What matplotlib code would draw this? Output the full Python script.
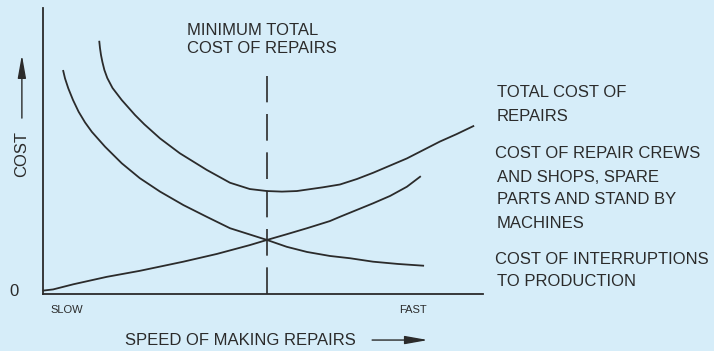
import matplotlib.pyplot as plt

plt.rcParams['font.family'] = ['Liberation Sans', 'DejaVu Sans']

# кривые затрат (скорость ремонта -> стоимость)
x_total = [1.280, 1.295, 1.318, 1.350, 1.395, 1.461, 1.580, 1.789, 2.091, 2.302, 2.66, 3.11, 3.72, 4.25, 4.70,
           5.09, 5.43, 5.77, 6.36, 6.75, 7.136, 7.507, 8.27, 9.02, 9.40, 9.78]
y_total = [8.822, 8.601, 8.357, 8.112, 7.832, 7.552, 7.203, 6.783, 6.259, 5.934, 5.44, 4.92, 4.34, 3.89, 3.67,
           3.60, 3.58, 3.60, 3.73, 3.829, 4.021, 4.241, 4.74, 5.33, 5.59, 5.87]

x_interr = [0.46, 0.50, 0.575, 0.682, 0.809, 0.955, 1.11, 1.26, 1.41, 1.60, 1.79, 2.20, 2.66, 3.19, 3.72,
            4.25, 5.09, 5.54, 6.00, 6.52, 6.98, 7.50, 8.07, 8.64]
y_interr = [7.80, 7.54, 7.19, 6.783, 6.374, 6.00, 5.67, 5.41, 5.15, 4.86, 4.57, 4.05, 3.58, 3.11, 2.70,
            2.30, 1.89, 1.65, 1.47, 1.33, 1.25, 1.13, 1.05, 0.99]

x_crews = [0.01, 0.23, 0.69, 1.45, 2.20, 3.19, 3.95, 4.70, 5.09, 5.54, 6.00, 6.52, 6.75, 7.50, 7.89, 8.27, 8.57]
y_crews = [0.12, 0.16, 0.34, 0.60, 0.81, 1.13, 1.40, 1.71, 1.89, 2.09, 2.30, 2.55, 2.70, 3.17, 3.43, 3.75, 4.10]

x_min = 5.09
y_min_top = 7.62

min_label = ['MINIMUM TOTAL', 'COST OF REPAIRS']
min_label_y = [9.23, 8.57]

right_labels = ['TOTAL COST OF', 'REPAIRS',
                'COST OF REPAIR CREWS', 'AND SHOPS, SPARE', 'PARTS AND STAND BY', 'MACHINES',
                'COST OF INTERRUPTIONS', 'TO PRODUCTION']
right_x = [10.32, 10.32, 10.27, 10.32, 10.32, 10.32, 10.27, 10.32]
right_y = [7.06, 6.19, 4.90, 4.06, 3.29, 2.48, 1.22, 0.42]

bg = '#d6edf9'
ink = '#2b2b2b'

fig = plt.figure(figsize=(7.14, 3.51), dpi=100, facecolor=bg)
ax = fig.add_axes([43/714, 57/351, 440/714, 286/351])
ax.set_facecolor(bg)
ax.set_xlim(0, 10)
ax.set_ylim(0, 10)

for xs, ys in [(x_total, y_total), (x_interr, y_interr), (x_crews, y_crews)]:
    ax.plot(xs, ys, color=ink, lw=1.3, solid_joinstyle='round', clip_on=False)
ax.plot([x_min, x_min], [0, y_min_top], color=ink, lw=1.2, dashes=(16, 7))

for s in ['top', 'right']:
    ax.spines[s].set_visible(False)
for s in ['left', 'bottom']:
    ax.spines[s].set_color(ink)
    ax.spines[s].set_linewidth(1.3)
ax.set_xticks([])
ax.set_yticks([])

for t, yy in zip(min_label, min_label_y):
    ax.text(3.27, yy, t, fontsize=12, color=ink, va='center', ha='left')
for t, xx, yy in zip(right_labels, right_x, right_y):
    ax.text(xx, yy, t, fontsize=12, color=ink, va='center', ha='left', clip_on=False)

ax.text(-0.66, 0.07, '0', fontsize=12, color=ink, ha='center', va='center')
ax.text(0.53, -0.56, 'SLOW', fontsize=8, color=ink, ha='center', va='center')
ax.text(8.40, -0.56, 'FAST', fontsize=8, color=ink, ha='center', va='center')
ax.text(1.86, -1.61, 'SPEED OF MAKING REPAIRS', fontsize=12, color=ink, ha='left', va='center')
ax.text(-0.48, 4.90, 'COST', fontsize=12, color=ink, ha='center', va='center', rotation=90)

arr = dict(arrowstyle='-|>,head_length=1.4,head_width=0.25', color=ink, lw=1.0, shrinkA=0, shrinkB=0)
ax.annotate('', xy=(8.75, -1.61), xytext=(7.48, -1.61), arrowprops=arr, annotation_clip=False)
ax.annotate('', xy=(-0.48, 8.36), xytext=(-0.48, 6.15), arrowprops=arr, annotation_clip=False)

plt.savefig('out.png', dpi=100, facecolor=bg)
